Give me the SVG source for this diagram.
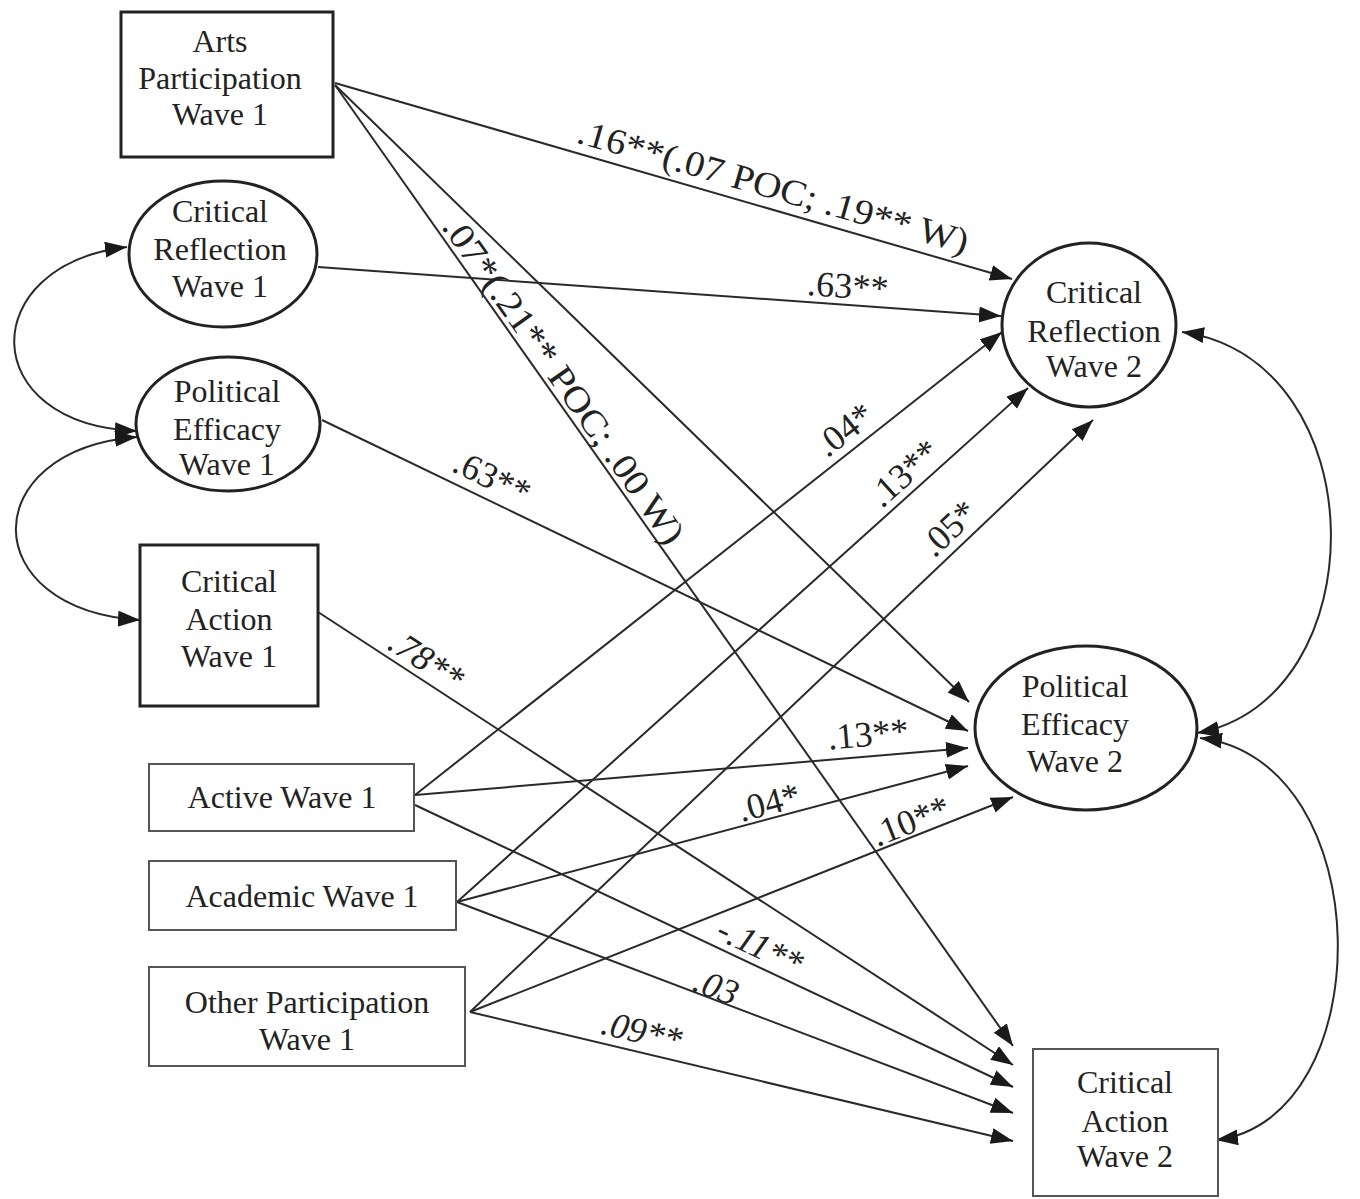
<svg xmlns="http://www.w3.org/2000/svg" width="1360" height="1199" viewBox="0 0 1360 1199">
<style>
  .bg{fill:#fff}
  .nt{font-family:"Liberation Serif","Times New Roman",serif;font-size:32px;fill:#222;text-anchor:middle}
  .lb{font-family:"Liberation Serif","Times New Roman",serif;font-size:36px;fill:#222;text-anchor:middle}
  .it{font-style:italic}
  .thick{fill:#fff;stroke:#222;stroke-width:3}
  .thin{fill:#fff;stroke:#555;stroke-width:2}
  .edge{fill:none;stroke:#2a2a2a;stroke-width:2;marker-end:url(#ah)}
  .cov{fill:none;stroke:#2a2a2a;stroke-width:2;marker-end:url(#ah);marker-start:url(#ah)}
</style>
<defs>
  <marker id="ah" markerUnits="userSpaceOnUse" markerWidth="24" markerHeight="18" refX="22" refY="8" orient="auto-start-reverse">
    <path d="M0,0 L22,8 L0,16 z" fill="#1a1a1a"/>
  </marker>
</defs>
<rect class="bg" x="0" y="0" width="1360" height="1199"/>

<g id="connectors">
  <path class="edge" d="M335,83 L1012,279"/>
  <path class="edge" d="M335,85 L969,702"/>
  <path class="edge" d="M335,85 L1013,1046"/>
  <path class="edge" d="M318,267 L1001,316"/>
  <path class="edge" d="M322,420 L968,731"/>
  <path class="edge" d="M318,612 L1013,1065"/>
  <path class="edge" d="M415,795 L1002,332"/>
  <path class="edge" d="M415,795 L968,748"/>
  <path class="edge" d="M415,805 L1013,1087"/>
  <path class="edge" d="M457,902 L1028,388"/>
  <path class="edge" d="M457,902 L968,766"/>
  <path class="edge" d="M457,902 L1013,1113"/>
  <path class="edge" d="M470,1012 L1093,420"/>
  <path class="edge" d="M470,1012 L1013,797"/>
  <path class="edge" d="M470,1012 L1013,1141"/>
  <path class="cov" d="M127,247 C-25,265 -25,425 137,431"/>
  <path class="cov" d="M137,437 C-25,450 -25,610 140,620"/>
  <path class="cov" d="M1182,332 C1378,360 1378,700 1197,733"/>
  <path class="cov" d="M1200,738 C1381,760 1381,1120 1216,1140"/>
</g>

<g id="labels">
  <text class="lb" transform="translate(770,198) rotate(16)" textLength="405" lengthAdjust="spacingAndGlyphs">.16**(.07 POC; .19** W)</text>
  <text class="lb" transform="translate(554,387) rotate(54.8)" textLength="392" lengthAdjust="spacingAndGlyphs">.07*(.21** POC; .00 W)</text>
  <text class="lb" transform="translate(847,298) rotate(4.1)">.63**</text>
  <text class="lb" transform="translate(487,488) rotate(25.7)">.63**</text>
  <text class="lb it" transform="translate(420,670) rotate(33)">.78**</text>
  <text class="lb" transform="translate(852,439) rotate(-38.3)">.04*</text>
  <text class="lb" transform="translate(912,482) rotate(-42)">.13**</text>
  <text class="lb" transform="translate(957,537) rotate(-43.5)">.05*</text>
  <text class="lb" transform="translate(869,746) rotate(-4.9)">.13**</text>
  <text class="lb" transform="translate(772,814) rotate(-14.9)">.04*</text>
  <text class="lb" transform="translate(915,832) rotate(-21.6)">.10**</text>
  <text class="lb it" transform="translate(755,957) rotate(25.2)">-.11**</text>
  <text class="lb it" transform="translate(712,998) rotate(20.8)">.03</text>
  <text class="lb it" transform="translate(639,1043) rotate(13.4)">.09**</text>
</g>

<g id="arts-w1">
  <rect class="thick" x="121" y="12" width="212" height="145"/>
  <text class="nt" x="220" y="52">Arts</text>
  <text class="nt" x="220" y="89">Participation</text>
  <text class="nt" x="220" y="125">Wave 1</text>
</g>
<g id="cr-w1">
  <ellipse class="thick" cx="223" cy="254" rx="94" ry="73"/>
  <text class="nt" x="220" y="222">Critical</text>
  <text class="nt" x="220" y="260">Reflection</text>
  <text class="nt" x="220" y="297">Wave 1</text>
</g>
<g id="pe-w1">
  <ellipse class="thick" cx="228" cy="424" rx="92" ry="67"/>
  <text class="nt" x="227" y="402">Political</text>
  <text class="nt" x="227" y="440">Efficacy</text>
  <text class="nt" x="227" y="475">Wave 1</text>
</g>
<g id="ca-w1">
  <rect class="thick" x="140" y="545" width="178" height="161"/>
  <text class="nt" x="229" y="592">Critical</text>
  <text class="nt" x="229" y="630">Action</text>
  <text class="nt" x="229" y="667">Wave 1</text>
</g>
<g id="active-w1">
  <rect class="thin" x="149" y="764" width="265" height="67"/>
  <text class="nt" x="282" y="808">Active Wave 1</text>
</g>
<g id="academic-w1">
  <rect class="thin" x="149" y="861" width="307" height="69"/>
  <text class="nt" x="302" y="907">Academic Wave 1</text>
</g>
<g id="other-w1">
  <rect class="thin" x="149" y="967" width="316" height="99"/>
  <text class="nt" x="307" y="1013">Other Participation</text>
  <text class="nt" x="307" y="1050">Wave 1</text>
</g>
<g id="cr-w2">
  <ellipse class="thick" cx="1089" cy="325" rx="87" ry="82"/>
  <text class="nt" x="1094" y="303">Critical</text>
  <text class="nt" x="1094" y="342">Reflection</text>
  <text class="nt" x="1094" y="377">Wave 2</text>
</g>
<g id="pe-w2">
  <ellipse class="thick" cx="1086" cy="728" rx="111" ry="82"/>
  <text class="nt" x="1075" y="697">Political</text>
  <text class="nt" x="1075" y="735">Efficacy</text>
  <text class="nt" x="1075" y="772">Wave 2</text>
</g>
<g id="ca-w2">
  <rect class="thin" x="1033" y="1049" width="185" height="147"/>
  <text class="nt" x="1125" y="1093">Critical</text>
  <text class="nt" x="1125" y="1132">Action</text>
  <text class="nt" x="1125" y="1167">Wave 2</text>
</g>
</svg>
